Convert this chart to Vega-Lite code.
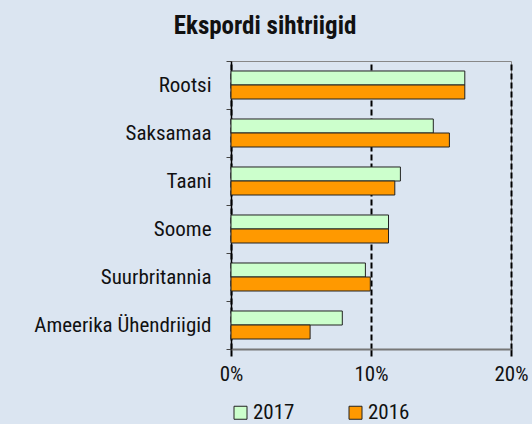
{
  "$schema": "https://vega.github.io/schema/vega-lite/v6.json",
  "width": 280,
  "height": 288,
  "autosize": {"type": "none"},
  "padding": {"left": 231, "top": 61, "right": 21, "bottom": 75},
  "background": "#DBE5F1",
  "view": {"stroke": "#888", "strokeWidth": 1},
  "config": {
    "font": "Roboto Condensed, Liberation Sans Narrow, Roboto",
    "axis": {"labelFont": "Roboto Condensed, Liberation Sans Narrow, Roboto", "labelColor": "#111"},
    "legend": {"labelFont": "Roboto Condensed, Liberation Sans Narrow, Roboto"}
  },
  "title": {
    "text": "Ekspordi sihtriigid",
    "font": "Roboto Condensed, Liberation Sans Narrow, Roboto",
    "fontSize": 25,
    "fontWeight": "bold",
    "color": "#111",
    "anchor": "middle",
    "dx": -106,
    "offset": 11
  },
  "data": {
    "values": [
      {"riik": "Rootsi", "aasta": "2017", "osa": 16.7},
      {"riik": "Rootsi", "aasta": "2016", "osa": 16.7},
      {"riik": "Saksamaa", "aasta": "2017", "osa": 14.45},
      {"riik": "Saksamaa", "aasta": "2016", "osa": 15.6},
      {"riik": "Taani", "aasta": "2017", "osa": 12.1},
      {"riik": "Taani", "aasta": "2016", "osa": 11.7},
      {"riik": "Soome", "aasta": "2017", "osa": 11.25},
      {"riik": "Soome", "aasta": "2016", "osa": 11.25},
      {"riik": "Suurbritannia", "aasta": "2017", "osa": 9.6},
      {"riik": "Suurbritannia", "aasta": "2016", "osa": 9.95},
      {"riik": "Ameerika Ühendriigid", "aasta": "2017", "osa": 7.95},
      {"riik": "Ameerika Ühendriigid", "aasta": "2016", "osa": 5.65}
    ]
  },
  "transform": [{"calculate": "datum.osa / 100", "as": "p"}],
  "mark": {"type": "bar", "stroke": "#222", "strokeWidth": 1},
  "encoding": {
    "y": {
      "field": "riik",
      "type": "nominal",
      "sort": ["Rootsi", "Saksamaa", "Taani", "Soome", "Suurbritannia", "Ameerika Ühendriigid"],
      "scale": {"paddingInner": 0, "paddingOuter": 0},
      "axis": {
        "title": null,
        "tickBand": "extent",
        "tickSize": 5,
        "tickColor": "#444",
        "domainColor": "#000",
        "domainWidth": 1.5,
        "labelFontSize": 21,
        "labelPadding": 15,
        "grid": false
      }
    },
    "yOffset": {
      "field": "aasta",
      "type": "nominal",
      "sort": ["2017", "2016"],
      "scale": {"paddingInner": 0, "paddingOuter": 0.714}
    },
    "x": {
      "field": "p",
      "type": "quantitative",
      "scale": {"domain": [0, 0.2], "nice": false},
      "axis": {
        "title": null,
        "format": "~%",
        "values": [0, 0.1, 0.2],
        "grid": true,
        "gridColor": "#000",
        "gridWidth": 2,
        "gridDash": [6, 3],
        "tickColor": "#000",
        "tickWidth": 2,
        "tickSize": 7,
        "domainColor": "#777",
        "domainWidth": 2,
        "labelFontSize": 21,
        "labelPadding": 7,
        "labelFlush": false
      }
    },
    "color": {
      "field": "aasta",
      "type": "nominal",
      "sort": ["2017", "2016"],
      "scale": {"domain": ["2017", "2016"], "range": ["#CCFFCC", "#FF9900"]},
      "legend": {
        "title": null,
        "orient": "none",
        "direction": "horizontal",
        "legendX": -1,
        "legendY": 341,
        "symbolType": "square",
        "symbolSize": 169,
        "symbolStrokeColor": "#222",
        "symbolStrokeWidth": 1,
        "labelFontSize": 21,
        "labelColor": "#111",
        "labelOffset": 2,
        "columnPadding": 50
      }
    }
  }
}
